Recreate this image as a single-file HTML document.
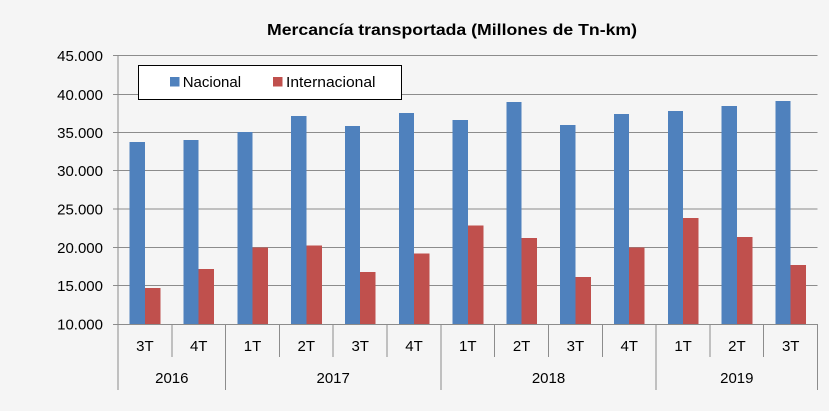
<!DOCTYPE html>
<html><head><meta charset="utf-8"><style>
html,body{margin:0;padding:0;background:#f5f5f5;}
svg{display:block;}
text{font-family:"Liberation Sans",sans-serif;fill:#000;}
</style></head><body>
<svg width="829" height="411" viewBox="0 0 829 411" xmlns="http://www.w3.org/2000/svg">
<rect x="0" y="0" width="829" height="411" fill="#f5f5f5"/>
<text x="452" y="35" font-size="16" font-weight="bold" text-anchor="middle" textLength="370" lengthAdjust="spacingAndGlyphs">Mercancía transportada (Millones de Tn-km)</text>
<g stroke="#8c8c8c" stroke-width="1" shape-rendering="crispEdges">
<line x1="113" y1="55.5" x2="817.5" y2="55.5"/>
<line x1="113" y1="94.5" x2="817.5" y2="94.5"/>
<line x1="113" y1="132.5" x2="817.5" y2="132.5"/>
<line x1="113" y1="170.5" x2="817.5" y2="170.5"/>
<line x1="113" y1="209" x2="817.5" y2="209"/>
<line x1="113" y1="247.5" x2="817.5" y2="247.5"/>
<line x1="113" y1="285.5" x2="817.5" y2="285.5"/>
</g>
<g font-size="15" text-anchor="end">
<text x="103" y="61">45.000</text>
<text x="103" y="100">40.000</text>
<text x="103" y="138">35.000</text>
<text x="103" y="176">30.000</text>
<text x="103" y="214.5">25.000</text>
<text x="103" y="253">20.000</text>
<text x="103" y="291">15.000</text>
<text x="103" y="329.5">10.000</text>
</g>
<g fill="#4f81bd" shape-rendering="crispEdges">
<rect x="129.7" y="142" width="15.2" height="182"/>
<rect x="183.5" y="140" width="15.2" height="184"/>
<rect x="237.3" y="132" width="15.2" height="192"/>
<rect x="291.1" y="116" width="15.2" height="208"/>
<rect x="345" y="126" width="15.2" height="198"/>
<rect x="398.8" y="113" width="15.2" height="211"/>
<rect x="452.6" y="120" width="15.2" height="204"/>
<rect x="506.4" y="102" width="15.2" height="222"/>
<rect x="560.2" y="125" width="15.2" height="199"/>
<rect x="614" y="114" width="15.2" height="210"/>
<rect x="667.9" y="111" width="15.2" height="213"/>
<rect x="721.7" y="106" width="15.2" height="218"/>
<rect x="775.5" y="101" width="15.2" height="223"/>
</g>
<g fill="#c0504d" shape-rendering="crispEdges">
<rect x="144.9" y="288" width="15.5" height="36"/>
<rect x="198.7" y="269" width="15.5" height="55"/>
<rect x="252.5" y="247.3" width="15.5" height="76.7"/>
<rect x="306.3" y="245.7" width="15.5" height="78.3"/>
<rect x="360.2" y="272" width="15.5" height="52"/>
<rect x="414" y="253.7" width="15.5" height="70.3"/>
<rect x="467.8" y="225.7" width="15.5" height="98.3"/>
<rect x="521.6" y="238" width="15.5" height="86"/>
<rect x="575.4" y="277" width="15.5" height="47"/>
<rect x="629.2" y="247.7" width="15.5" height="76.3"/>
<rect x="683.1" y="218" width="15.5" height="106"/>
<rect x="736.9" y="237" width="15.5" height="87"/>
<rect x="790.7" y="265" width="15.5" height="59"/>
</g>
<g stroke="#8c8c8c" stroke-width="1" shape-rendering="crispEdges">
<line x1="118" y1="55" x2="118" y2="390"/>
<line x1="113" y1="324.5" x2="817.5" y2="324.5"/>
<line x1="171.8" y1="324" x2="171.8" y2="357"/>
<line x1="225.6" y1="324" x2="225.6" y2="390"/>
<line x1="279.4" y1="324" x2="279.4" y2="357"/>
<line x1="333.2" y1="324" x2="333.2" y2="357"/>
<line x1="387.1" y1="324" x2="387.1" y2="357"/>
<line x1="440.9" y1="324" x2="440.9" y2="390"/>
<line x1="494.7" y1="324" x2="494.7" y2="357"/>
<line x1="548.5" y1="324" x2="548.5" y2="357"/>
<line x1="602.3" y1="324" x2="602.3" y2="357"/>
<line x1="656.1" y1="324" x2="656.1" y2="390"/>
<line x1="709.9" y1="324" x2="709.9" y2="357"/>
<line x1="763.7" y1="324" x2="763.7" y2="357"/>
<line x1="817.5" y1="324" x2="817.5" y2="390"/>
</g>
<g font-size="15" text-anchor="middle">
<text x="144.9" y="351">3T</text>
<text x="198.7" y="351">4T</text>
<text x="252.5" y="351">1T</text>
<text x="306.3" y="351">2T</text>
<text x="360.2" y="351">3T</text>
<text x="414" y="351">4T</text>
<text x="467.8" y="351">1T</text>
<text x="521.6" y="351">2T</text>
<text x="575.4" y="351">3T</text>
<text x="629.2" y="351">4T</text>
<text x="683.1" y="351">1T</text>
<text x="736.9" y="351">2T</text>
<text x="790.7" y="351">3T</text>
<text x="171.8" y="383">2016</text>
<text x="333.2" y="383">2017</text>
<text x="548.5" y="383">2018</text>
<text x="736.8" y="383">2019</text>
</g>
<rect x="138.5" y="65.5" width="263" height="34" fill="#ffffff" stroke="#000" stroke-width="1" shape-rendering="crispEdges"/>
<rect x="170" y="77" width="9.5" height="9.5" fill="#4f81bd"/>
<text x="182.7" y="87" font-size="15">Nacional</text>
<rect x="273" y="77" width="9.5" height="9.5" fill="#c0504d"/>
<text x="286" y="87" font-size="15" textLength="89.5" lengthAdjust="spacingAndGlyphs">Internacional</text>
</svg>
</body></html>
